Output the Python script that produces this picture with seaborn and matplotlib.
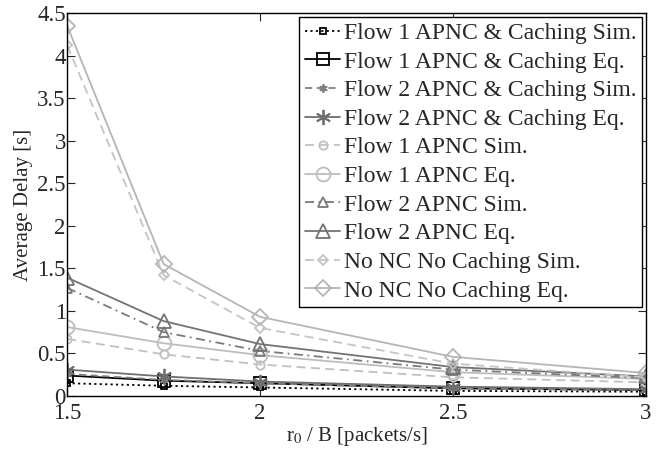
import numpy as np
import pandas as pd
import matplotlib
matplotlib.use("Agg")
import matplotlib.pyplot as plt
import seaborn as sns

# Arrival-rate ratio r0/B
rate = [1.5, 1.75, 2.0, 2.5, 3.0]

# Average delay [s] per scheme
flow1_cache_sim = [0.15, 0.12, 0.10, 0.06, 0.05]
flow1_cache_eq = [0.24, 0.18, 0.15, 0.09, 0.07]
flow2_cache_sim = [0.26, 0.19, 0.15, 0.09, 0.07]
flow2_cache_eq = [0.31, 0.23, 0.17, 0.11, 0.08]
flow1_apnc_sim = [0.67, 0.49, 0.37, 0.22, 0.16]
flow1_apnc_eq = [0.81, 0.62, 0.48, 0.28, 0.20]
flow2_apnc_sim = [1.27, 0.75, 0.53, 0.31, 0.21]
flow2_apnc_eq = [1.39, 0.88, 0.61, 0.34, 0.23]
nonc_sim = [4.12, 1.42, 0.80, 0.38, 0.22]
nonc_eq = [4.35, 1.55, 0.93, 0.46, 0.27]

labels = [
    "Flow 1 APNC & Caching Sim.",
    "Flow 1 APNC & Caching Eq.",
    "Flow 2 APNC & Caching Sim.",
    "Flow 2 APNC & Caching Eq.",
    "Flow 1 APNC Sim.",
    "Flow 1 APNC Eq.",
    "Flow 2 APNC Sim.",
    "Flow 2 APNC Eq.",
    "No NC No Caching Sim.",
    "No NC No Caching Eq.",
]
series = [flow1_cache_sim, flow1_cache_eq, flow2_cache_sim, flow2_cache_eq,
          flow1_apnc_sim, flow1_apnc_eq, flow2_apnc_sim, flow2_apnc_eq,
          nonc_sim, nonc_eq]

# asterisk-shaped marker (6 spokes)
asterisk = (6, 2, 0)

# (color, linestyle, marker, markersize)
styles = [
    ("#000000", (0, (1.2, 1.8)), "s", 5),
    ("#000000", "-", "s", 8),
    ("#808080", (0, (4, 2.5)), asterisk, 6),
    ("#6e6e6e", "-", asterisk, 11),
    ("#c0c0c0", (0, (5, 3)), "o", 6),
    ("#bdbdbd", "-", "o", 10),
    ("#7a7a7a", (0, (5, 2.5, 1, 2.5)), "^", 7),
    ("#737373", "-", "^", 10),
    ("#c4c4c4", (0, (5, 3)), "D", 5),
    ("#b5b5b5", "-", "D", 8),
]

sns.set_style("ticks")
plt.rcParams["font.family"] = ["Liberation Serif", "DejaVu Serif"]
plt.rcParams["mathtext.fontset"] = "stix"

fig = plt.figure(figsize=(6.59, 4.5), dpi=100)
ax = fig.add_axes([0.102, 0.120, 0.878, 0.851])

for lab, vals, (col, ls, mk, ms) in zip(labels, series, styles):
    df = pd.DataFrame({"rate": rate, "delay": vals})
    sns.lineplot(data=df, x="rate", y="delay", ax=ax, color=col,
                 linestyle=ls, marker=mk, markersize=ms, linewidth=1.3,
                 markerfacecolor="none", markeredgecolor=col,
                 markeredgewidth=1.3, label=lab)

ax.set_xlim(1.5, 3.0)
ax.set_ylim(0, 4.5)
ax.set_xticks([1.5, 2, 2.5, 3])
ax.set_xticklabels(["1.5", "2", "2.5", "3"])
ax.set_yticks(np.arange(0, 4.51, 0.5))
ax.set_yticklabels(["0", "0.5", "1", "1.5", "2", "2.5", "3", "3.5", "4", "4.5"])
ax.tick_params(direction="in", top=True, right=True, labelsize=16.5,
               length=6, width=0.8)
ax.tick_params(axis="y", pad=1)
ax.tick_params(axis="x", pad=5)
for sp in ax.spines.values():
    sp.set_visible(True)
    sp.set_linewidth(1.0)
    sp.set_color("black")

ax.set_xlabel(r"r$_0$ / B [packets/s]", fontsize=15, labelpad=1)
ax.set_ylabel("Average Delay [s]", fontsize=15, labelpad=3)

leg = ax.legend(loc="upper right", fontsize=17, frameon=True, fancybox=False,
                edgecolor="black", framealpha=1, handlelength=1.5,
                handletextpad=0.15, labelspacing=0.3, borderpad=0.25,
                borderaxespad=0.15)
leg.get_frame().set_linewidth(1.0)

fig.savefig("out.png", dpi=100)
